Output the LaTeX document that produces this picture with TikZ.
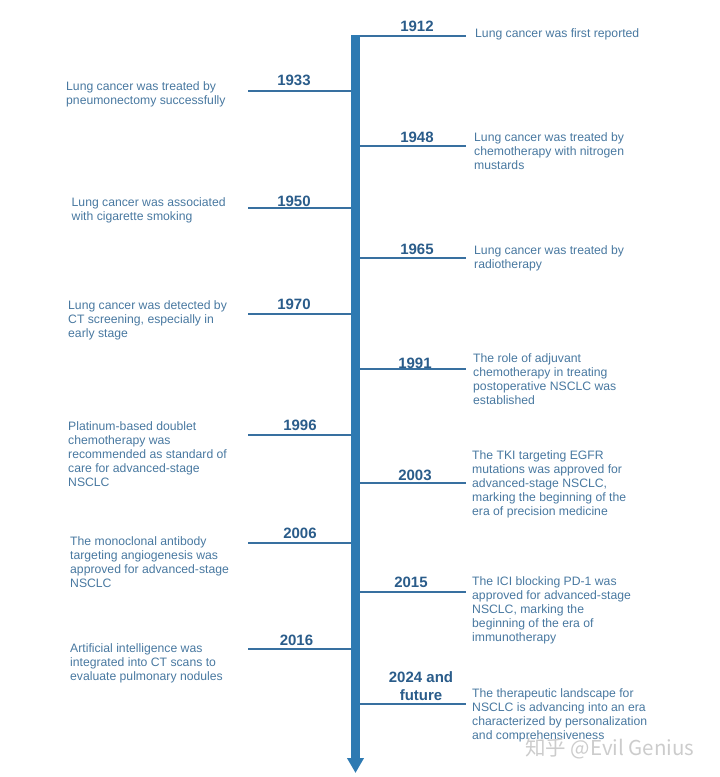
\documentclass[tikz,border=0pt]{standalone}
\usepackage{fontspec}
\setmainfont{Liberation Sans}
\newfontfamily\cjk{Noto Sans CJK SC}
\usepackage{tikz}
\usetikzlibrary{arrows.meta,positioning}

\definecolor{axisblue}{RGB}{46,122,178}
\definecolor{lineblue}{RGB}{56,112,160}
\definecolor{yearblue}{RGB}{42,92,138}
\definecolor{noteblue}{RGB}{72,120,160}

\begin{document}
\begin{tikzpicture}[x=1pt,y=-1pt,
	year/.style={font=\fontsize{15}{18}\selectfont\bfseries,text=yearblue,inner sep=0pt,align=center},
	note/.style={font=\fontsize{12.2}{14}\selectfont,text=noteblue,inner sep=0pt,align=left,anchor=north west},
	branch/.style={draw=lineblue,line width=1.8pt}]
\useasboundingbox (0,0) rectangle (720,777);

% time axis
\coordinate (top) at (355.5,35);
\coordinate (bottom) at (355.5,773);
\draw[draw=axisblue,line width=9pt,-{Triangle[width=16pt,length=15pt]}] (top) -- (bottom);

% branches to the right
\foreach \yr/\y in {1912/36,1948/146,1965/258,1991/369,2003/483,2015/592,2024/704}
	\draw[branch] (360,\y) coordinate (s\yr) -- (466,\y) coordinate (e\yr);
% branches to the left
\foreach \yr/\y in {1933/91,1950/208,1970/314,1996/435,2006/543,2016/649}
	\draw[branch] (351,\y) coordinate (s\yr) -- (248,\y) coordinate (e\yr);

% right side
\node[year] (y1912) at (417,26) {1912};
\node[note] (n1912) at (475,28) {Lung cancer was first reported};
\node[year] (y1948) at (417,137) {1948};
\node[note] (n1948) at (474,132) {Lung cancer was treated by\\chemotherapy with nitrogen\\mustards};
\node[year] (y1965) at (417,249) {1965};
\node[note] (n1965) at (474,245) {Lung cancer was treated by\\radiotherapy};
\node[year] (y1991) at (415,363) {1991};
\node[note] (n1991) at (473,353) {The role of adjuvant\\chemotherapy in treating\\postoperative NSCLC was\\established};
\node[year] (y2003) at (415,475) {2003};
\node[note] (n2003) at (472,450) {The TKI targeting EGFR\\mutations was approved for\\advanced-stage NSCLC,\\marking the beginning of the\\era of precision medicine};
\node[year] (y2015) at (411,582) {2015};
\node[note] (n2015) at (472,576) {The ICI blocking PD-1 was\\approved for advanced-stage\\NSCLC, marking the\\beginning of the era of\\immunotherapy};
\node[year] (y2024) at (421,686) {2024 and\\future};
\node[note] (n2024) at (472,688) {The therapeutic landscape for\\NSCLC is advancing into an era\\characterized by personalization\\and comprehensiveness};

% left side
\node[year] (y1933) at (294,80) {1933};
\node[note] (n1933) at (66,81) {Lung cancer was treated by\\pneumonectomy successfully};
\node[year] (y1950) at (294,201) {1950};
\node[note] (n1950) at (71.5,197) {Lung cancer was associated\\with cigarette smoking};
\node[year] (y1970) at (294,304) {1970};
\node[note] (n1970) at (68,300.5) {Lung cancer was detected by\\CT screening, especially in\\early stage};
\node[year] (y1996) at (300,425) {1996};
\node[note] (n1996) at (68,421) {Platinum-based doublet\\chemotherapy was\\recommended as standard of\\care for advanced-stage\\NSCLC};
\node[year] (y2006) at (300,533) {2006};
\node[note] (n2006) at (70,536) {The monoclonal antibody\\targeting angiogenesis was\\approved for advanced-stage\\NSCLC};
\node[year] (y2016) at (296.5,640) {2016};
\node[note] (n2016) at (70,643) {Artificial intelligence was\\integrated into CT scans to\\evaluate pulmonary nodules};

% watermark
\node[font=\cjk\fontsize{20.5}{20.5}\selectfont,text=black!20,anchor=west,inner sep=0pt] (mark) at (525,749) {知乎 @Evil Genius};

\end{tikzpicture}
\end{document}
